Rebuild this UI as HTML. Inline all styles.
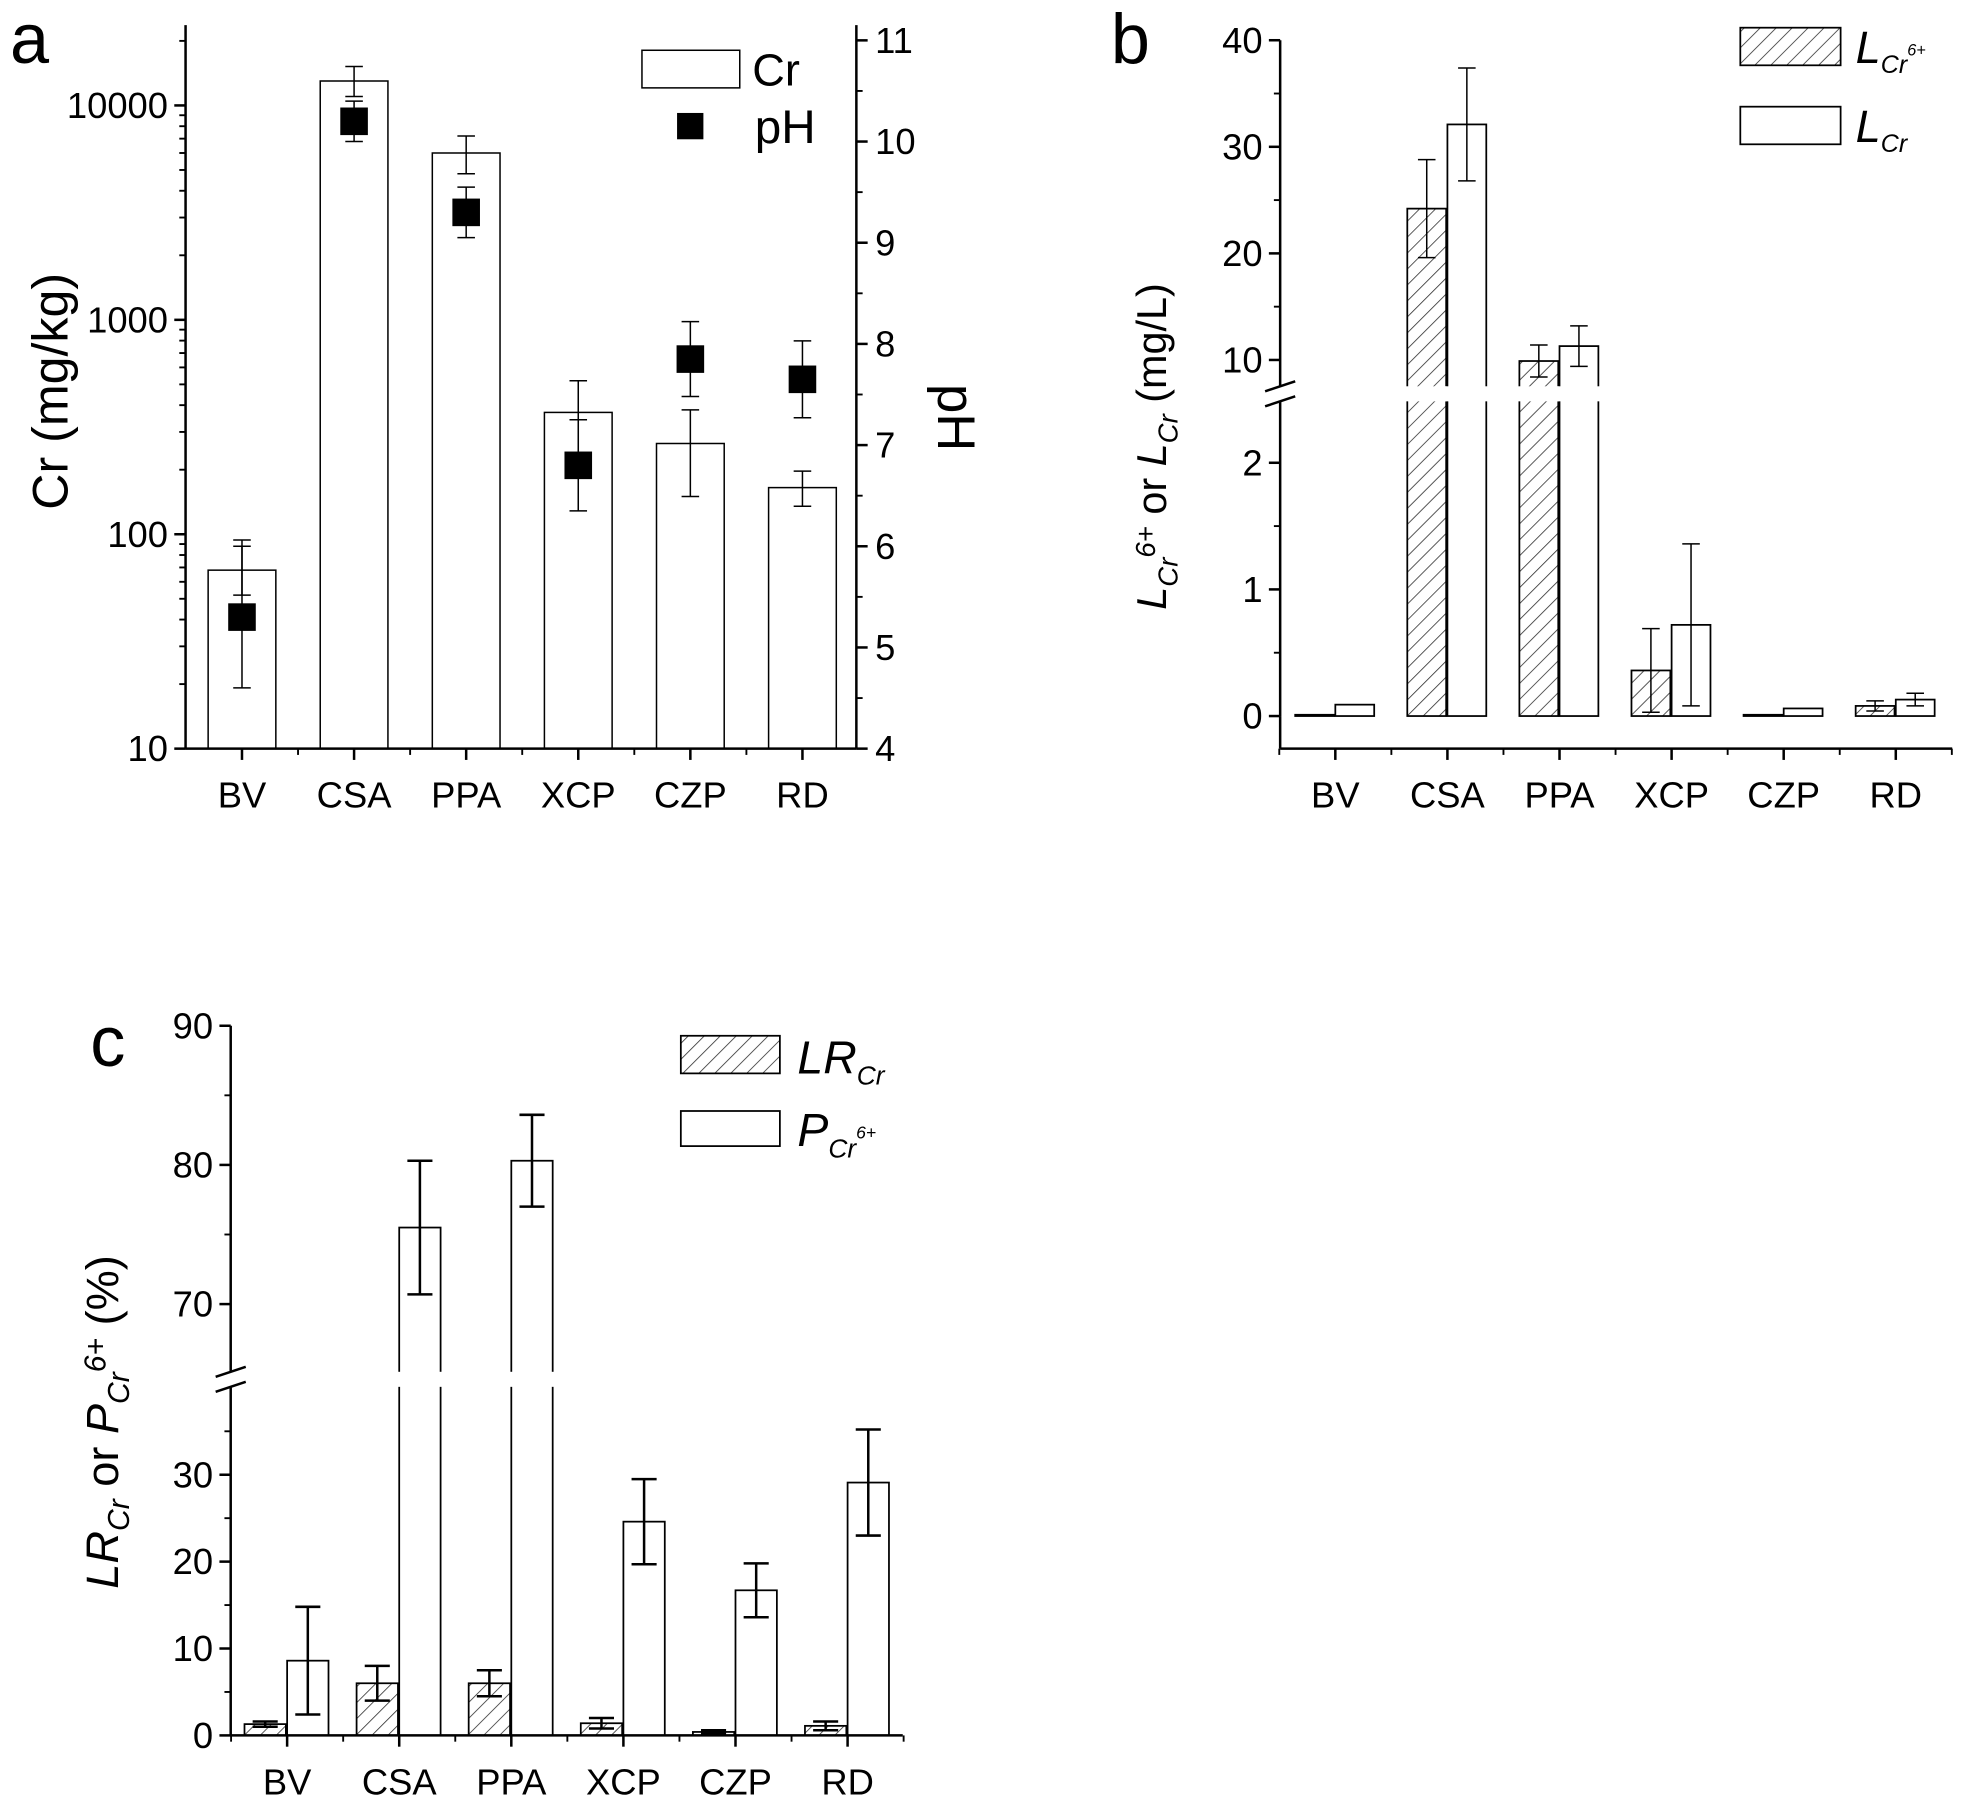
<!DOCTYPE html>
<html><head><meta charset="utf-8"><style>
html,body{margin:0;padding:0;background:#fff}
svg{display:block}
text{font-family:"Liberation Sans",Arial,sans-serif;fill:#000}
</style></head><body>
<svg id="fig" width="1966" height="1812" viewBox="0 0 1568 1445" xmlns="http://www.w3.org/2000/svg">
<defs>
<pattern id="hatch" patternUnits="userSpaceOnUse" width="9" height="9" patternTransform="rotate(45)">
<rect width="9" height="9" fill="#fff"/><line x1="0" y1="0" x2="0" y2="9" stroke="#333" stroke-width="1.3"/>
</pattern>
</defs>
<g id="pa"></g>
<g id="pb"></g>
<g id="pc"></g>
</svg>
<script>
// ---- data ----
const categories = ["BV","CSA","PPA","XCP","CZP","RD"];
// panel a
const crValues = [68, 13000, 6000, 370, 265, 165];
const crUpper = [94, 15200, 7200, 520, 380, 197];
const crLower = [52, 11000, 4800, 220, 150, 135];
const phValues = [5.3, 10.2, 9.3, 6.8, 7.85, 7.65];
const phErr = [0.7, 0.2, 0.25, 0.45, 0.37, 0.38];
const crTicks = [10, 100, 1000, 10000];
const phTicks = [4,5,6,7,8,9,10,11];
// panel b
const lcr6Values = [0.01, 24.2, 9.9, 0.36, 0.01, 0.08];
const lcr6Err = [0, 4.6, 1.5, 0.33, 0, 0.04];
const lcrValues = [0.09, 32.1, 11.3, 0.72, 0.06, 0.13];
const lcrErr = [0, 5.3, 1.9, 0.64, 0, 0.05];
const bLowTicks = [0,1,2];
const bHighTicks = [10,20,30,40];
// panel c
const lrValues = [1.3, 6, 6, 1.4, 0.4, 1.1];
const lrErr = [0.3, 2, 1.5, 0.6, 0.2, 0.5];
const pValues = [8.6, 75.5, 80.3, 24.6, 16.7, 29.1];
const pErr = [6.2, 4.8, 3.3, 4.9, 3.1, 6.1];
const cLowTicks = [0,10,20,30];
const cHighTicks = [70,80,90];

const TF = 29; // tick font
const NS = "http://www.w3.org/2000/svg";
function mk(parent, tag, attrs, txt){
  const e = document.createElementNS(NS, tag);
  for (const k in attrs) e.setAttribute(k, attrs[k]);
  if (txt !== undefined) e.textContent = txt;
  parent.appendChild(e);
  return e;
}
function line(p,x1,y1,x2,y2,w){ return mk(p,"line",{x1,y1,x2,y2,stroke:"#000","stroke-width":w||1.5}); }
function errbar(p,x,yTop,yBot,cap,w){
  const g = mk(p,"g",{});
  
  
  line(g,x,yTop,x,yBot,w); line(g,x-cap,yTop,x+cap,yTop,w); line(g,x-cap,yBot,x+cap,yBot,w);
  return g;
}

// ===== Panel a =====
(function(){
  const P = document.getElementById("pa");
  const L=148, R=683, B=597, T=20;
  const xs = i => 193 + i*89.4;
  const yLog = v => 597 - 171*Math.log10(v/10);
  const yPh = v => 597 - 80.7*(v-4);
  const bw = 54;
  categories.forEach((c,i)=>{
    const y = yLog(crValues[i]);
    const r = mk(P,"rect",{x:xs(i)-bw/2,y:y,width:bw,height:B-y,fill:"#fff",stroke:"#000","stroke-width":1.2});
    
    
    errbar(P,xs(i),yLog(crUpper[i]),yLog(crLower[i]),7,1.2);
  });
  categories.forEach((c,i)=>{
    const y = yPh(phValues[i]);
    errbar(P,xs(i),yPh(phValues[i]+phErr[i]),yPh(phValues[i]-phErr[i]),7,1.2);
    const s = mk(P,"rect",{x:xs(i)-11,y:y-11,width:22,height:22,fill:"#000"});
    
    
  });
  line(P,L,T,L,B,2); line(P,R,T,R,B,2); line(P,L,B,R,B,2);
  crTicks.forEach(v=>{
    const y=yLog(v); line(P,L-9,y,L,y,2);
    const t = mk(P,"text",{x:L-14,y:y+10,"font-size":TF,"text-anchor":"end"},String(v));
    
    
    if (v<10000) for(let k=2;k<10;k++){ const yy=yLog(v*k); line(P,L-5,yy,L,yy,1.5); }
  });
  { const yy=yLog(20000); if(yy>T) line(P,L-5,yy,L,yy,1.5); }
  phTicks.forEach(v=>{
    const y=yPh(v); line(P,R,y,R+9,y,2);
    if (v<11) line(P,R,yPh(v+0.5),R+5,yPh(v+0.5),1.5);
    const t = mk(P,"text",{x:R+15,y:y+10,"font-size":TF},String(v));
    
    
  });
  categories.forEach((c,i)=>{
    line(P,xs(i),B,xs(i),B+9,2);
    if (i<5) line(P,xs(i)+44.7,B,xs(i)+44.7,B+5,1.5);
    const t = mk(P,"text",{x:xs(i),y:B+47,"font-size":TF,"text-anchor":"middle"},c);
    
    
  });
  let t = mk(P,"text",{x:0,y:0,"font-size":40,"text-anchor":"middle",transform:"translate(54,312) rotate(-90)"},"Cr (mg/kg)");
   
  t = mk(P,"text",{x:0,y:0,"font-size":42,"text-anchor":"middle",transform:"translate(748,333) rotate(90)"},"pH");
   
  t = mk(P,"text",{x:8,y:50,"font-size":56},"a");
   
  let r = mk(P,"rect",{x:512,y:40,width:78,height:30,fill:"#fff",stroke:"#000","stroke-width":1.2});
   
  t = mk(P,"text",{x:600,y:68,"font-size":36},"Cr");
   
  r = mk(P,"rect",{x:540,y:90,width:21,height:21,fill:"#000"});
   
  t = mk(P,"text",{x:602,y:114,"font-size":38},"pH");
   
})();

// ===== broken-axis grouped bar helper =====
function brokenPanel(P, o){
  const {L,R,B,T,xs,bw,yLow,yHigh,lowMax,gapTop,gapBot,capw,ew} = o;
  const y = v => v<=lowMax ? yLow(v) : yHigh(v);
  o.series.forEach((s)=>{
    categories.forEach((c,i)=>{
      const x = xs(i) + s.off;
      const v = s.values[i];
      const yt = y(v);
      const r = mk(P,"rect",{x:x,y:yt,width:bw,height:Math.max(0,o.base-yt),fill:s.fill,stroke:"#000","stroke-width":1.4});
      
      
      if (v>lowMax) mk(P,"rect",{x:x-2,y:gapTop,width:bw+4,height:gapBot-gapTop,fill:"#fff"});
      if (s.err[i]>0){
        const up = v+s.err[i], lo = v-s.err[i];
        const yu = y(up);
        let yl = y(Math.max(lo,0));
        if (v>lowMax && lo<=lowMax) yl = gapTop;
        errbar(P,x+bw/2,yu,yl,capw,ew);
      }
    });
  });
  line(P,L,B,R,B,2);
  line(P,L,o.base,L,B,2);
  line(P,L,gapBot,L,o.base,2);
  line(P,L,T,L,gapTop,2);
  mk(P,"rect",{x:L-14,y:gapTop,width:28,height:gapBot-gapTop,fill:"#fff"});
  line(P,L-12,gapTop+4,L+12,gapTop-4,2);
  line(P,L-12,gapBot+4,L+12,gapBot-4,2);
  o.lowTicks.forEach(v=>{ const yy=yLow(v); line(P,L-9,yy,L,yy,2);
    const t=mk(P,"text",{x:L-14,y:yy+10,"font-size":TF,"text-anchor":"end"},String(v));
      });
  o.highTicks.forEach(v=>{ const yy=yHigh(v); line(P,L-9,yy,L,yy,2);
    const t=mk(P,"text",{x:L-14,y:yy+10,"font-size":TF,"text-anchor":"end"},String(v));
      });
  o.minorLow.forEach(v=>{ const yy=yLow(v); line(P,L-5,yy,L,yy,1.5); });
  o.minorHigh.forEach(v=>{ const yy=yHigh(v); line(P,L-5,yy,L,yy,1.5); });
  categories.forEach((c,i)=>{
    line(P,xs(i),B,xs(i),B+9,2);
    line(P,xs(i)-o.step/2,B,xs(i)-o.step/2,B+5,1.5);
    const t=mk(P,"text",{x:xs(i),y:B+47,"font-size":TF,"text-anchor":"middle"},c);
     
  });
  line(P,xs(5)+o.step/2,B,xs(5)+o.step/2,B+5,1.5);
}

// ===== Panel b =====
(function(){
  const P = document.getElementById("pb");
  brokenPanel(P,{L:1021,R:1557,B:597,T:32,base:571,xs:i=>1065+i*89.4,step:89.4,bw:31,
    yLow:v=>571-101*v, yHigh:v=>287-8.5*(v-10), lowMax:2.5, gapTop:308, gapBot:320,
    capw:7, ew:1.2, lowTicks:bLowTicks, highTicks:bHighTicks, minorLow:[0.5,1.5], minorHigh:[15,25,35],
    series:[{name:'l-cr6',values:lcr6Values,err:lcr6Err,fill:"url(#hatch)",off:-32},
            {name:'l-cr',values:lcrValues,err:lcrErr,fill:"#fff",off:0}]});
  let t = mk(P,"text",{x:886,y:50,"font-size":56},"b");
   
  t = mk(P,"text",{x:0,y:0,"font-size":33,"text-anchor":"middle",transform:"translate(930,356) rotate(-90)"});
   
  t.innerHTML = '<tspan font-style="italic">L</tspan><tspan font-style="italic" font-size="22" dy="9">Cr</tspan><tspan font-size="22" font-style="italic" dy="-18">6+</tspan><tspan dy="9"> or </tspan><tspan font-style="italic">L</tspan><tspan font-style="italic" font-size="22" dy="9">Cr</tspan><tspan dy="-9"> (mg/L)</tspan>';
  let r = mk(P,"rect",{x:1388,y:22,width:80,height:30,fill:"url(#hatch)",stroke:"#000","stroke-width":1.4});
   
  t = mk(P,"text",{x:1480,y:50,"font-size":36});
   
  t.innerHTML='<tspan font-style="italic">L</tspan><tspan font-style="italic" font-size="20" dy="8">Cr</tspan><tspan font-style="italic" font-size="13" dy="-14">6+</tspan>';
  r = mk(P,"rect",{x:1388,y:85,width:80,height:30,fill:"#fff",stroke:"#000","stroke-width":1.4});
   
  t = mk(P,"text",{x:1480,y:113,"font-size":36});
   
  t.innerHTML='<tspan font-style="italic">L</tspan><tspan font-style="italic" font-size="20" dy="8">Cr</tspan>';
})();

// ===== Panel c =====
(function(){
  const P = document.getElementById("pc");
  brokenPanel(P,{L:184,R:720,B:1384,T:818,base:1384,xs:i=>229+i*89.4,step:89.4,bw:33,
    yLow:v=>1384-6.93*v, yHigh:v=>1040-11.1*(v-70), lowMax:40, gapTop:1094, gapBot:1106,
    capw:10, ew:2, lowTicks:cLowTicks, highTicks:cHighTicks, minorLow:[5,15,25,35], minorHigh:[75,85],
    series:[{name:'lr-cr',values:lrValues,err:lrErr,fill:"url(#hatch)",off:-34},
            {name:'p-cr6',values:pValues,err:pErr,fill:"#fff",off:0}]});
  let t = mk(P,"text",{x:72,y:850,"font-size":56},"c");
   
  t = mk(P,"text",{x:0,y:0,"font-size":36,"text-anchor":"middle",transform:"translate(94,1134) rotate(-90)"});
   
  t.innerHTML = '<tspan font-style="italic">LR</tspan><tspan font-style="italic" font-size="24" dy="9">Cr</tspan><tspan dy="-9"> or </tspan><tspan font-style="italic">P</tspan><tspan font-style="italic" font-size="24" dy="9">Cr</tspan><tspan font-size="24" font-style="italic" dy="-19">6+</tspan><tspan dy="10"> (%)</tspan>';
  let r = mk(P,"rect",{x:543,y:826,width:79,height:30,fill:"url(#hatch)",stroke:"#000","stroke-width":1.4});
   
  t = mk(P,"text",{x:636,y:856,"font-size":37});
   
  t.innerHTML='<tspan font-style="italic">LR</tspan><tspan font-style="italic" font-size="21" dy="9">Cr</tspan>';
  r = mk(P,"rect",{x:543,y:886,width:79,height:28,fill:"#fff",stroke:"#000","stroke-width":1.4});
   
  t = mk(P,"text",{x:636,y:914,"font-size":37});
   
  t.innerHTML='<tspan font-style="italic">P</tspan><tspan font-style="italic" font-size="21" dy="9">Cr</tspan><tspan font-style="italic" font-size="14" dy="-15">6+</tspan>';
})();
</script>
</body></html>
